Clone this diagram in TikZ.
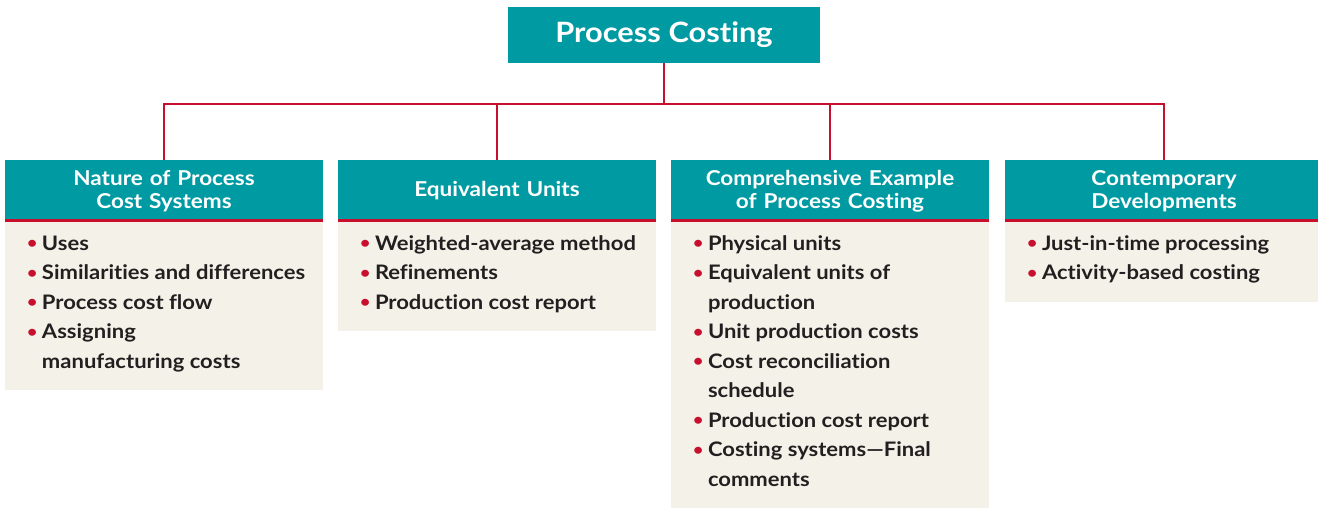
\documentclass[tikz,border=0pt]{standalone}
\usepackage{fontspec}
\setmainfont{Lato}[BoldFont={Lato Bold},FakeStretch=1.1,RawFeature={-liga;-dlig}]
\usepackage{xcolor}
\definecolor{cteal}{HTML}{009AA2}
\definecolor{cred}{HTML}{C8102E}
\definecolor{cbeige}{HTML}{F4F1E9}
\definecolor{ctext}{HTML}{231F20}
\newcommand{\bu}{\rule{0pt}{15pt}\makebox[17pt][l]{\hspace*{2pt}\raisebox{1.8pt}{\textcolor{cred}{\scalebox{0.8}{\textbullet}}}}}
\newcommand{\ind}{\rule{0pt}{15pt}\hspace*{17pt}}
\begin{document}
\begin{tikzpicture}[x=1pt,y=-1pt,
  titlebox/.style={fill=cteal,text=white,font=\bfseries\fontsize{28}{32}\selectfont,minimum width=312pt,minimum height=56pt,inner sep=0pt},
  headbox/.style={fill=cteal,text=white,font=\bfseries\fontsize{20.5}{23.5}\selectfont,minimum width=318pt,minimum height=62pt,inner sep=0pt,align=center,text width=310pt},
  bodybox/.style={fill=cbeige,minimum width=318pt,inner sep=0pt,anchor=north},
  listtext/.style={text=ctext,font=\bfseries\fontsize{20}{29.5}\selectfont,align=left,inner sep=0pt,anchor=north west},
  conn/.style={draw=cred,line width=2.4pt},
  redrule/.style={draw=cred,line width=3pt}]
\useasboundingbox (0,0) rectangle (1318,508);
\node[titlebox] (title) at (664,35) {Process Costing};
% headers
\node[headbox] (h1) at (164,191) {Nature of Process\\Cost Systems};
\node[headbox] (h2) at (497,191) {Equivalent Units};
\node[headbox] (h3) at (830,191) {Comprehensive Example\\of Process Costing};
\node[headbox] (h4) at (1164,191) {Contemporary\\Developments};
% bodies
\node[bodybox,minimum height=168pt] (b1) at (h1.south) {};
\node[bodybox,minimum height=109pt] (b2) at (h2.south) {};
\node[bodybox,minimum height=286pt] (b3) at (h3.south) {};
\node[bodybox,minimum height=80pt] (b4) at (h4.south) {};
\foreach \h in {h1,h2,h3,h4}
  \draw[redrule] ([yshift=1.5pt]\h.south west) -- ([yshift=1.5pt]\h.south east);
% lists
\node[listtext] (l1) at ([xshift=20pt,yshift=-13pt]b1.north west) {\bu Uses\\ \bu Similarities and differences\\ \bu Process cost flow\\ \bu Assigning\\ \ind manufacturing costs};
\node[listtext] (l2) at ([xshift=20pt,yshift=-13pt]b2.north west) {\bu Weighted-average method\\ \bu Refinements\\ \bu Production cost report};
\node[listtext] (l3) at ([xshift=20pt,yshift=-13pt]b3.north west) {\bu Physical units\\ \bu Equivalent units of\\ \ind production\\ \bu Unit production costs\\ \bu Cost reconciliation\\ \ind schedule\\ \bu Production cost report\\ \bu Costing systems—Final\\ \ind comments};
\node[listtext] (l4) at ([xshift=20pt,yshift=-13pt]b4.north west) {\bu Just-in-time processing\\ \bu Activity-based costing};
% connectors
\coordinate (j) at (664,104);
\draw[conn] (title.south) -- (j);
\draw[conn] (j) -| (h1.north);
\draw[conn] (j) -| (h2.north);
\draw[conn] (j) -| (h3.north);
\draw[conn] (j) -| (h4.north);
\end{tikzpicture}
\end{document}
